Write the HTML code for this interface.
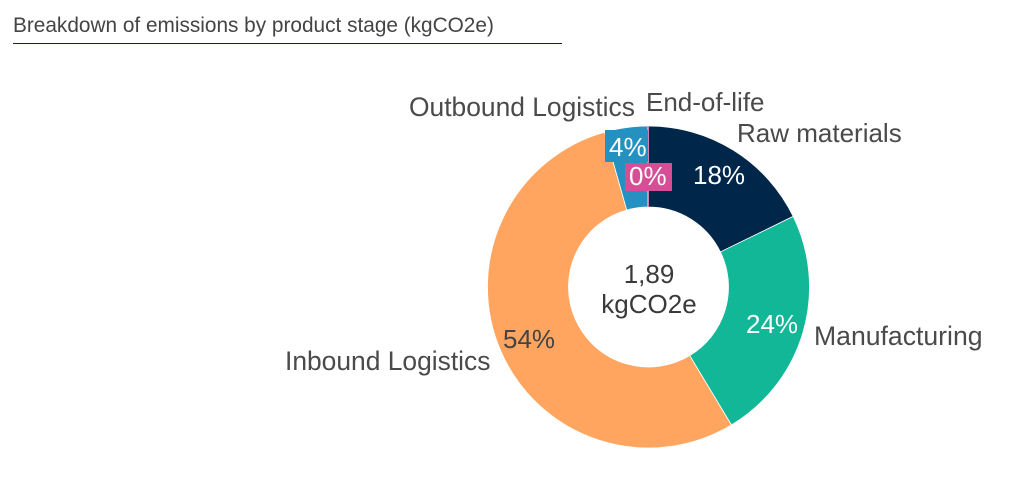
<!DOCTYPE html>
<html>
<head>
<meta charset="utf-8">
<style>
  html, body { margin: 0; padding: 0; background: #ffffff; }
  body { width: 1018px; height: 492px; overflow: hidden; }
  svg { display: block; }
  text { font-family: "Liberation Sans", Arial, sans-serif; }
</style>
</head>
<body>
<svg width="1018" height="492" viewBox="0 0 1018 492" xmlns="http://www.w3.org/2000/svg">
  <rect x="0" y="0" width="1018" height="492" fill="#ffffff"/>

  <!-- Title -->
  <text x="13" y="32" font-size="20.8" fill="#444444">Breakdown of emissions by product stage (kgCO2e)</text>
  <rect x="13" y="43" width="549" height="1" fill="#0f2240"/>

  <!-- Donut slices -->
  <g stroke="#ffffff" stroke-width="0.8" stroke-linejoin="round">
    <path d="M648.5,126 A161,161 0 0 1 793.21,216.42 L720.40,251.93 A80,80 0 0 0 648.5,207 Z" fill="#00264a"/>
    <path d="M793.21,216.42 A161,161 0 0 1 731.42,425.01 L689.70,355.58 A80,80 0 0 0 720.40,251.93 Z" fill="#12b797"/>
    <path d="M731.42,425.01 A161,161 0 1 1 604.66,132.09 L626.72,210.02 A80,80 0 1 0 689.70,355.58 Z" fill="#ffa560"/>
    <path d="M604.66,132.09 A161,161 0 0 1 647.38,126 L647.94,207 A80,80 0 0 0 626.72,210.02 Z" fill="#2491c1"/>
  </g>
  <path d="M647.38,126 A161,161 0 0 1 648.6,126 L648.6,207 A80,80 0 0 0 647.94,207 Z" fill="#d64e95"/>

  <!-- Data labels with boxes -->
  <rect x="605" y="130" width="43" height="32" fill="#2491c1"/>
  <text x="609" y="156" font-size="26" fill="#ffffff">4%</text>
  <rect x="625" y="163" width="47" height="28" fill="#d64e95"/>
  <text x="629" y="185" font-size="26" fill="#ffffff">0%</text>

  <text x="693" y="184" font-size="26" fill="#ffffff">18%</text>
  <text x="746" y="333" font-size="26" fill="#ffffff">24%</text>
  <text x="503" y="348" font-size="26" fill="#444444">54%</text>

  <!-- Center text -->
  <text x="649" y="283" font-size="26" fill="#3a3a3a" text-anchor="middle">1,89</text>
  <text x="649" y="313" font-size="26" fill="#3a3a3a" text-anchor="middle">kgCO2e</text>

  <!-- Category labels -->
  <text x="409" y="116" font-size="26.4" fill="#4a4a4a">Outbound Logistics</text>
  <text x="646" y="111" font-size="26" fill="#4a4a4a">End-of-life</text>
  <text x="737" y="142" font-size="26" fill="#4a4a4a">Raw materials</text>
  <text x="814" y="345" font-size="26.6" fill="#4a4a4a">Manufacturing</text>
  <text x="285" y="370" font-size="26.4" fill="#4a4a4a">Inbound Logistics</text>
</svg>
</body>
</html>
